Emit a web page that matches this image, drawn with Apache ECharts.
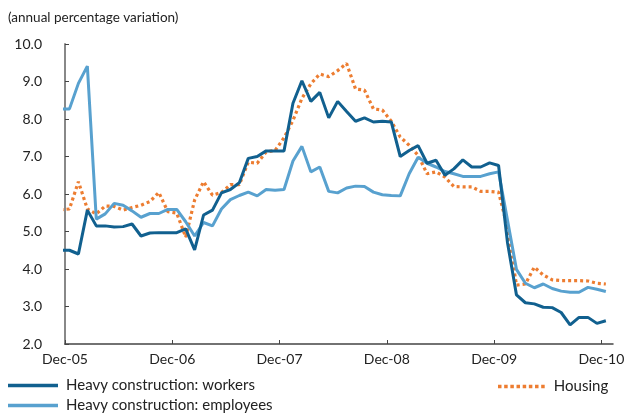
<!DOCTYPE html>
<html>
<head>
<meta charset="utf-8">
<script src="https://cdn.jsdelivr.net/npm/echarts@6/dist/echarts.min.js"></script>
<style>
html,body{margin:0;padding:0;background:#fff;}
#c{width:631px;height:417px;}
</style>
</head>
<body>
<div id="c"></div>
<script>
// Monthly observations Nov-05 .. Dec-10 (first point lies just left of the axis and is clipped)
const months = ["Nov-05","Dec-05","Jan-06","Feb-06","Mar-06","Apr-06","May-06","Jun-06","Jul-06","Aug-06","Sep-06","Oct-06","Nov-06","Dec-06","Jan-07","Feb-07","Mar-07","Apr-07","May-07","Jun-07","Jul-07","Aug-07","Sep-07","Oct-07","Nov-07","Dec-07","Jan-08","Feb-08","Mar-08","Apr-08","May-08","Jun-08","Jul-08","Aug-08","Sep-08","Oct-08","Nov-08","Dec-08","Jan-09","Feb-09","Mar-09","Apr-09","May-09","Jun-09","Jul-09","Aug-09","Sep-09","Oct-09","Nov-09","Dec-09","Jan-10","Feb-10","Mar-10","Apr-10","May-10","Jun-10","Jul-10","Aug-10","Sep-10","Oct-10","Nov-10","Dec-10"];

const workers = [4.5,4.5,4.4,5.57,5.15,5.15,5.12,5.13,5.2,4.88,4.96,4.97,4.97,4.97,5.07,4.51,5.44,5.57,6.03,6.12,6.3,6.95,7.0,7.15,7.15,7.15,8.42,9.02,8.47,8.71,8.03,8.47,8.2,7.94,8.03,7.92,7.94,7.92,7.0,7.16,7.29,6.82,6.9,6.5,6.67,6.91,6.72,6.72,6.83,6.76,4.7,3.31,3.1,3.07,2.98,2.97,2.84,2.51,2.71,2.71,2.55,2.62];

const employees = [8.27,8.27,8.95,9.41,5.33,5.47,5.75,5.7,5.55,5.38,5.48,5.48,5.59,5.59,5.26,4.88,5.24,5.15,5.6,5.85,5.96,6.05,5.95,6.12,6.1,6.12,6.88,7.27,6.59,6.72,6.07,6.03,6.16,6.21,6.2,6.05,5.98,5.96,5.95,6.54,6.98,6.82,6.72,6.6,6.54,6.47,6.47,6.47,6.54,6.59,5.3,3.99,3.62,3.5,3.6,3.48,3.41,3.38,3.38,3.51,3.46,3.4];

const housing = [5.58,5.6,6.33,5.6,5.47,5.68,5.67,5.57,5.64,5.7,5.8,6.04,5.53,5.49,4.85,5.84,6.33,5.97,6.04,6.25,6.25,6.85,6.82,7.12,7.16,7.5,7.96,8.55,8.94,9.2,9.13,9.29,9.48,8.8,8.77,8.27,8.24,7.94,7.52,7.3,7.03,6.54,6.59,6.45,6.2,6.19,6.19,6.07,6.07,6.05,5.1,3.57,3.6,4.05,3.84,3.71,3.69,3.69,3.69,3.68,3.62,3.6];

const xTickLabels = ["Dec-05","Dec-06","Dec-07","Dec-08","Dec-09","Dec-10"];
const seriesNames = ["Heavy construction: workers","Heavy construction: employees","Housing"];
const unitLabel = "(annual percentage variation)";

// month position (months since start of Dec-05); observations sit mid-month
function toXY(arr){ return arr.map((v,i)=>[i - 1 + 0.5, v]); }

// legend icons
const solidIcon = 'path://M0,0H50V3.3H0Z';
let dotPath = 'path://';
for (let i = 0; i < 8; i++) { const x0 = (i * 6.17).toFixed(2); dotPath += 'M' + x0 + ',0h3.5v3.5h-3.5Z'; }

const FONT = 'Lato';
const legendText = {fontSize:15, color:'#222', fontFamily:FONT, lineHeight:17};
const chart = echarts.init(document.getElementById('c'), null, {renderer:'canvas'});
chart.setOption({
  animation:false,
  backgroundColor:'#fff',
  textStyle:{fontFamily:FONT},
  grid:{left:65, right:18, top:44, bottom:73, containLabel:false},
  title:{text:unitLabel, left:3, top:6, textStyle:{fontFamily:FONT, fontSize:13.5, fontWeight:'normal', color:'#222'}},
  xAxis:{
    type:'value', min:0, max:61.3,
    axisLine:{show:true, lineStyle:{color:'#444', width:1.5}},
    axisTick:{show:true, inside:true, length:4, lineStyle:{color:'#444'}, customValues:[0,12,24,36,48,60]},
    axisLabel:{customValues:[0,12,24,36,48,60], formatter:(v)=>xTickLabels[Math.round(v/12)]||'', fontSize:14, color:'#222', margin:8, fontFamily:FONT},
    splitLine:{show:false}
  },
  yAxis:{
    type:'value', min:2, max:10, interval:1,
    axisLine:{show:true, lineStyle:{color:'#888', width:2}},
    axisTick:{show:true, inside:true, length:4, lineStyle:{color:'#444'}},
    axisLabel:{formatter:(v)=>v.toFixed(1), fontSize:14, color:'#222', margin:23, fontFamily:FONT},
    splitLine:{show:false}
  },
  legend:[
    {data:[{name:seriesNames[0], icon:solidIcon},{name:seriesNames[1], icon:solidIcon}], orient:'vertical', left:8, top:377, padding:0,
     itemWidth:50, itemHeight:3.3, itemGap:3, height:60,
     textStyle:Object.assign({padding:[0,0,0,3]}, legendText)},
    {data:[{name:seriesNames[2], icon:dotPath}], orient:'vertical', left:498, top:378, padding:0,
     itemWidth:47, itemHeight:3.5, height:40,
     textStyle:Object.assign({padding:[0,0,0,4]}, legendText)}
  ],
  series:[
    {name:seriesNames[2], type:'line', data:toXY(housing), symbol:'none', clip:true,
     lineStyle:{color:'#ED7D31', width:3.2, type:[3,3]}, itemStyle:{color:'#ED7D31'}, z:2},
    {name:seriesNames[1], type:'line', data:toXY(employees), symbol:'none', clip:true,
     lineStyle:{color:'#58A1CF', width:3}, itemStyle:{color:'#58A1CF'}, z:3},
    {name:seriesNames[0], type:'line', data:toXY(workers), symbol:'none', clip:true,
     lineStyle:{color:'#11608F', width:3}, itemStyle:{color:'#11608F'}, z:4}
  ]
});
</script>
</body>
</html>
